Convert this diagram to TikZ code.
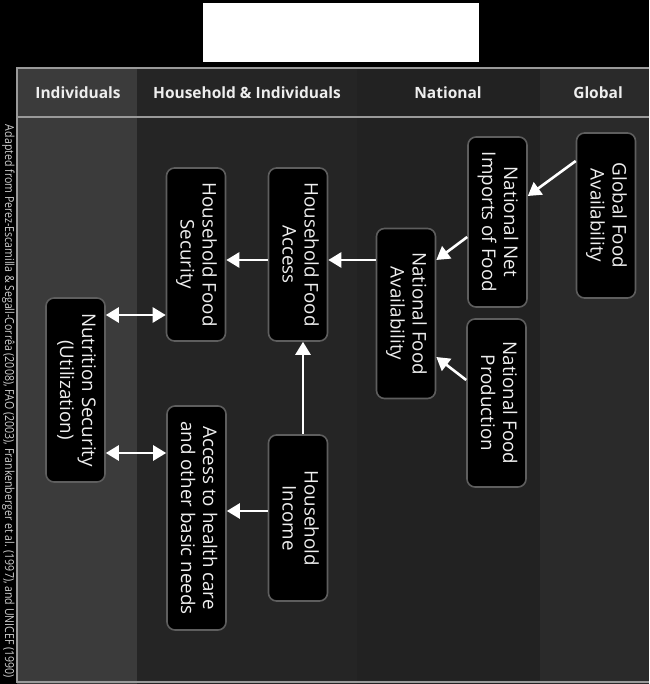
\documentclass[tikz,border=0pt]{standalone}
\usepackage{fontspec}
\usepackage{graphicx}
\setmainfont{Open Sans}
\usetikzlibrary{arrows.meta}
\definecolor{colind}{HTML}{3B3B3B}
\definecolor{colhh}{HTML}{252525}
\definecolor{colnat}{HTML}{222222}
\definecolor{colglob}{HTML}{2A2A2A}
\definecolor{frameline}{HTML}{9A9A9A}
\definecolor{boxline}{HTML}{5E5E5E}
\definecolor{txt}{HTML}{EEEEEE}
\definecolor{credit}{HTML}{CFCFCF}
\newcommand{\boxtext}[2]{\rotatebox{-90}{\fontsize{18.8}{22}\selectfont\begin{tabular}{@{}c@{}}#1\\#2\end{tabular}}}
\tikzset{
  fbox/.style={draw=boxline, line width=1.6pt, fill=black, rounded corners=8pt, inner sep=0pt, text=txt, minimum width=59pt},
  hdr/.style={text=txt, font=\fontsize{15.5}{18}\selectfont\bfseries, inner sep=0pt},
  arr/.style={draw=white, line width=2.6pt, -{Triangle[length=13pt,width=15pt]}},
  darr/.style={draw=white, line width=2.6pt, {Triangle[length=13pt,width=15pt]}-{Triangle[length=13pt,width=15pt]}}
}
\begin{document}
\begin{tikzpicture}[x=1pt,y=-1pt]
\useasboundingbox (0,0) rectangle (649,684);
\fill[black] (0,0) rectangle (649,684);
\fill[white] (203,3) rectangle (479,62);
% columns
\fill[colind] (17,68) rectangle (137,684);
\fill[colhh] (137,68) rectangle (357,684);
\fill[colnat] (357,68) rectangle (540,684);
\fill[colglob] (540,68) rectangle (649,684);
% frame lines
\draw[frameline, line width=1.6pt] (649,68) -- (17,68) -- (17,682) -- (649,682);
\draw[frameline, line width=2pt] (17,117) -- (649,117);
% headers
\node[hdr] (h1) at (78,93) {Individuals};
\node[hdr] (h2) at (247,93) {Household \& Individuals};
\node[hdr] (h3) at (448,93) {National};
\node[hdr] (h4) at (598,93) {Global};
% credit
\node[text=credit, inner sep=0pt, rotate=-90] (cr) at (8.5,401.5) {\resizebox{553pt}{9.5pt}{\fontsize{10}{12}\selectfont Adapted from Perez-Escamilla \& Segall-Corrêa (2008), FAO (2003), Frankenberger et al. (1997), and UNICEF (1990)}};
% boxes
\node[fbox, minimum height=173pt] (hfs) at (196,254.5) {\boxtext{Household Food}{Security}};
\node[fbox, minimum height=173pt] (hfa) at (298,254.5) {\boxtext{Household Food}{Access}};
\node[fbox, minimum height=170pt] (nfa) at (406,313.5) {\boxtext{National Food}{Availability}};
\node[fbox, minimum height=170pt] (imp) at (497.5,222) {\boxtext{National Net}{Imports of Food}};
\node[fbox, minimum height=168pt] (prod) at (496.5,403) {\boxtext{National Food}{Production}};
\node[fbox, minimum height=165pt] (glob) at (606,215.5) {\boxtext{Global Food}{Availability}};
\node[fbox, minimum height=184pt] (nut) at (75.5,390) {\boxtext{Nutrition Security}{(Utilization)}};
\node[fbox, minimum height=224pt] (acc) at (196.5,518) {\boxtext{Access to health care}{and other basic needs}};
\node[fbox, minimum height=166pt] (inc) at (298,518) {\boxtext{Household}{Income}};
% connectors
\draw[arr] (glob.west |- 0,161) -- (imp.east |- 0,196);
\draw[arr] (imp.west |- 0,237) -- (nfa.east |- 0,260);
\draw[arr] (prod.west |- 0,380) -- (nfa.east |- 0,357);
\draw[arr] (nfa.west |- 0,260) -- (hfa.east |- 0,260);
\draw[arr] (hfa.west |- 0,260) -- (hfs.east |- 0,260);
\draw[arr] (inc.north -| 303,0) -- (hfa.south -| 303,0);
\draw[arr] (inc.west |- 0,511) -- (acc.east |- 0,511);
\draw[darr] (nut.east |- 0,315) -- (hfs.west |- 0,315);
\draw[darr] (nut.east |- 0,453) -- (acc.west |- 0,453);
\end{tikzpicture}
\end{document}
